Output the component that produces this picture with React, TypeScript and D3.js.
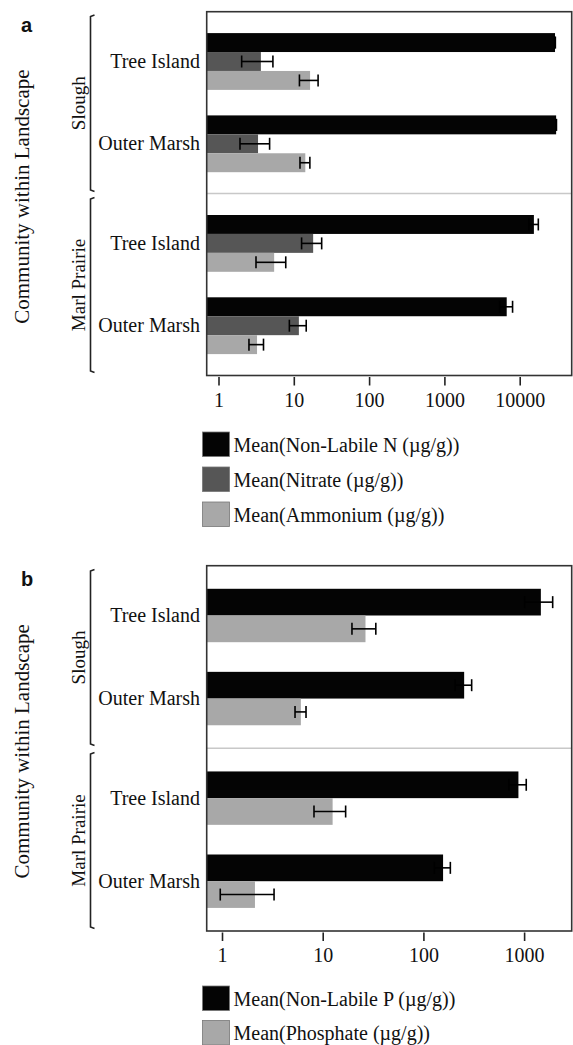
import React from 'react';
import * as d3 from 'd3';

const landscapes = ['Slough', 'Marl Prairie'];
const communities = ['Tree Island', 'Outer Marsh'];
// value order: Slough/Tree Island, Slough/Outer Marsh, Marl Prairie/Tree Island, Marl Prairie/Outer Marsh
const nonLabileN = [29000, 30000, 15200, 6620];
const nonLabileNErr = [300, 300, 2200, 1300];
const nitrate = [3.6, 3.3, 17.8, 11.5];
const nitrateErr = [1.6, 1.4, 5.3, 2.9];
const ammonium = [16.2, 14.0, 5.4, 3.2];
const ammoniumErr = [4.5, 2.1, 2.3, 0.7];
const nonLabileP = [1450, 251, 868, 155];
const nonLabilePErr = [450, 47, 170, 28];
const phosphate = [26.3, 6.0, 12.4, 2.1];
const phosphateErr = [7, 0.75, 4.3, 1.15];
const ticksA = [1, 10, 100, 1000, 10000];
const ticksB = [1, 10, 100, 1000];
const legendA = ['Mean(Non-Labile N (µg/g))', 'Mean(Nitrate (µg/g))', 'Mean(Ammonium (µg/g))'];
const legendB = ['Mean(Non-Labile P (µg/g))', 'Mean(Phosphate (µg/g))'];

const BLACK = '#040404';
const DARK = '#565656';
const LIGHT = '#a8a8a8';
const SERIF = '"Liberation Serif", "Times New Roman", serif';
const SANS = '"Liberation Sans", Arial, sans-serif';

type Series = { name: string; values: number[]; errs: number[]; color: string };

type PanelProps = {
  letter: string;
  top: number;
  bottom: number;
  domain: [number, number];
  ticks: number[];
  series: Series[];
  padInner: number;
  padOuter: number;
  legendTop: number;
  legendStep: number;
  brackets: [number, number][];
};

const X0 = 206.7;
const X1 = 571.7;

function Panel(p: PanelProps) {
  const x = d3.scaleLog().domain(p.domain).range([X0, X1]);
  const mid = (p.top + p.bottom) / 2;
  const subRanges: [number, number][] = [
    [p.top, mid],
    [mid, p.bottom],
  ];
  const bars: React.ReactNode[] = [];
  const errs: React.ReactNode[] = [];
  const catLabels: React.ReactNode[] = [];
  landscapes.forEach((land, li) => {
    const band = d3
      .scaleBand<string>()
      .domain(communities)
      .range(subRanges[li])
      .paddingInner(p.padInner)
      .paddingOuter(p.padOuter);
    communities.forEach((comm, ci) => {
      const idx = li * 2 + ci;
      const gy = band(comm)!;
      const inner = d3
        .scaleBand<string>()
        .domain(p.series.map((s) => s.name))
        .range([gy, gy + band.bandwidth()]);
      p.series.forEach((s) => {
        const y = inner(s.name)!;
        const h = inner.bandwidth();
        const v = s.values[idx];
        const e = s.errs[idx];
        bars.push(
          <rect key={`b-${idx}-${s.name}`} x={X0} y={y} width={x(v) - X0} height={h} fill={s.color} />
        );
        const cy = y + h / 2;
        const xl = x(v - e);
        const xr = x(v + e);
        const ch = 6;
        errs.push(
          <g key={`e-${idx}-${s.name}`} stroke="#000" strokeWidth={1.6} fill="none">
            <line x1={xl} x2={xr} y1={cy} y2={cy} />
            <line x1={xl} x2={xl} y1={cy - ch} y2={cy + ch} />
            <line x1={xr} x2={xr} y1={cy - ch} y2={cy + ch} />
          </g>
        );
      });
      catLabels.push(
        <text
          key={`c-${idx}`}
          x={200}
          y={gy + band.bandwidth() / 2 + 6.5}
          textAnchor="end"
          fontFamily={SERIF}
          fontSize={20}
          fill="#111"
        >
          {comm}
        </text>
      );
    });
  });

  const bracketX = 90.5;
  return (
    <g>
      <text x={21} y={p.top + 20.5} fontFamily={SANS} fontWeight="bold" fontSize={20} fill="#111">
        {p.letter}
      </text>
      <text
        transform={`translate(29,${mid + 3}) rotate(-90)`}
        textAnchor="middle"
        fontFamily={SERIF}
        fontSize={21}
        fill="#111"
      >
        Community within Landscape
      </text>
      {p.brackets.map(([y0, y1], i) => (
        <g key={`br-${i}`}>
          <path
            d={`M${bracketX + 4},${y0} L${bracketX},${y0 + 1.5} L${bracketX},${y1 - 1.5} L${bracketX + 4},${y1}`}
            stroke="#222"
            strokeWidth={1.6}
            fill="none"
          />
          <text
            transform={`translate(85,${(y0 + y1) / 2}) rotate(-90)`}
            textAnchor="middle"
            fontFamily={SERIF}
            fontSize={19}
            fill="#111"
          >
            {landscapes[i]}
          </text>
        </g>
      ))}
      {catLabels}
      {bars}
      {errs}
      <line x1={X0} x2={X1} y1={mid} y2={mid} stroke="#c8c8c8" strokeWidth={1.5} />
      <rect x={X0} y={p.top} width={X1 - X0} height={p.bottom - p.top} fill="none" stroke="#333" strokeWidth={1.6} />
      {p.ticks.map((t) => (
        <g key={`t-${t}`}>
          <line x1={x(t)} x2={x(t)} y1={p.bottom + 1.5} y2={p.bottom + 10} stroke="#222" strokeWidth={1.6} />
          <text x={x(t)} y={p.bottom + 31} textAnchor="middle" fontFamily={SERIF} fontSize={20} fill="#111">
            {String(t)}
          </text>
        </g>
      ))}
      {p.series.map((s, i) => (
        <g key={`lg-${i}`}>
          <rect
            x={202.5}
            y={p.legendTop + i * p.legendStep}
            width={27}
            height={24.5}
            fill={s.color}
            stroke="#777"
            strokeWidth={0.8}
          />
          <text
            x={233.5}
            y={p.legendTop + i * p.legendStep + 19.5}
            fontFamily={SERIF}
            fontSize={20}
            fill="#111"
          >
            {s.name}
          </text>
        </g>
      ))}
    </g>
  );
}

export default function App() {
  const seriesA: Series[] = [
    { name: legendA[0], values: nonLabileN, errs: nonLabileNErr, color: BLACK },
    { name: legendA[1], values: nitrate, errs: nitrateErr, color: DARK },
    { name: legendA[2], values: ammonium, errs: ammoniumErr, color: LIGHT },
  ];
  const seriesB: Series[] = [
    { name: legendB[0], values: nonLabileP, errs: nonLabilePErr, color: BLACK },
    { name: legendB[1], values: phosphate, errs: phosphateErr, color: LIGHT },
  ];
  return (
    <svg
      width={573}
      height={1045}
      viewBox="0 0 573 1045"
      style={{ position: 'absolute', left: 0, top: 0, background: '#fff' }}
    >
      <rect x={0} y={0} width={573} height={1045} fill="#fff" />
      <Panel
        letter="a"
        top={11.7}
        bottom={375.5}
        domain={[0.6866, 48300]}
        ticks={ticksA}
        series={seriesA}
        padInner={0.31}
        padOuter={0.26}
        legendTop={432}
        legendStep={35}
        brackets={[
          [15, 191.5],
          [197.5, 372.5],
        ]}
      />
      <Panel
        letter="b"
        top={565.7}
        bottom={931}
        domain={[0.6967, 2935]}
        ticks={ticksB}
        series={seriesB}
        padInner={0.357}
        padOuter={0.278}
        legendTop={986}
        legendStep={34.5}
        brackets={[
          [569.5, 745.5],
          [752.5, 928.5],
        ]}
      />
    </svg>
  );
}
